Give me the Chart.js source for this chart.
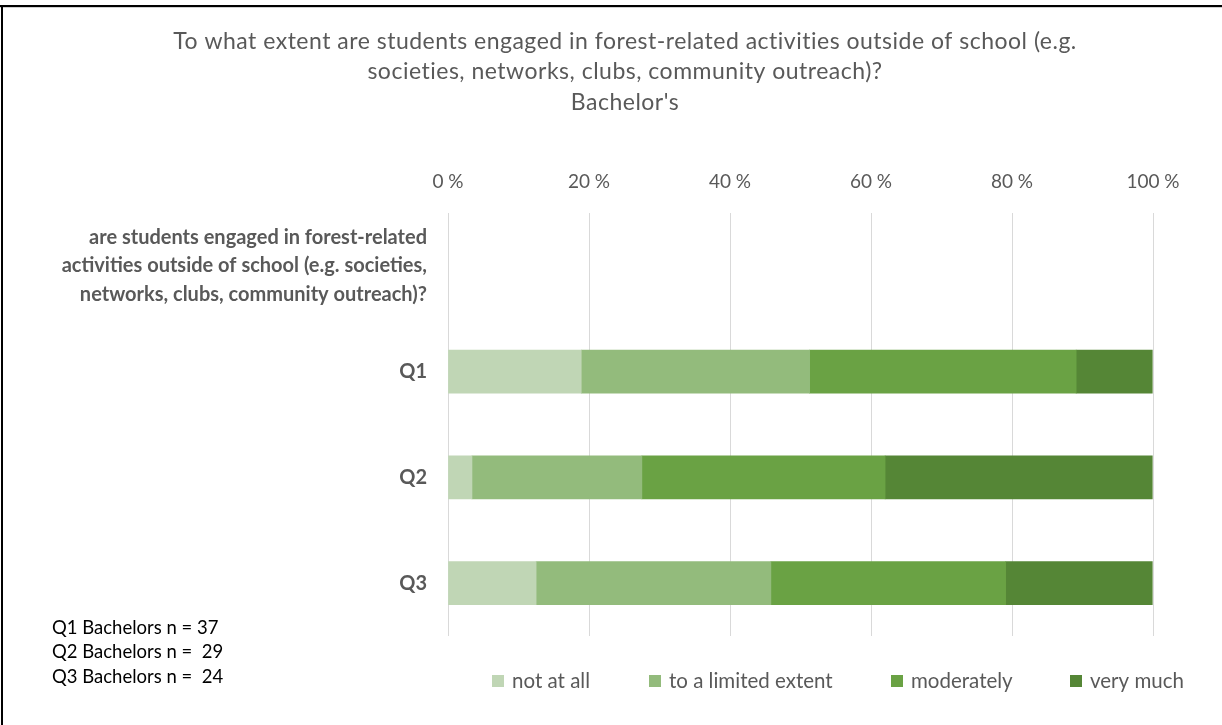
<!DOCTYPE html>
<html>
<head>
<meta charset="utf-8">
<script src="https://cdn.jsdelivr.net/npm/chart.js@4/dist/chart.umd.min.js"></script>
<style>
  html, body { margin: 0; padding: 0; background: #ffffff; }
  #wrap { position: relative; width: 1222px; height: 725px; }
  canvas { display: block; }
</style>
</head>
<body>
<div id="wrap"><canvas id="c" width="1222" height="725"></canvas></div>
<script>
// ---- data ----
const categories = [
  ['are students engaged in forest-related', 'activities outside of school (e.g. societies,', 'networks, clubs, community outreach)?'],
  'Q1', 'Q2', 'Q3'
];
const seriesNames = ['not at all', 'to a limited extent', 'moderately', 'very much'];
const notAtAll = [null, 18.9, 3.4, 12.5];
const limitedExtent = [null, 32.4, 24.1, 33.3];
const moderately = [null, 37.8, 34.5, 33.3];
const veryMuch = [null, 10.8, 37.9, 20.8];
const seriesColors = ['#C0D6B5', '#93BB7C', '#6AA244', '#558636'];
const xTicks = [0, 20, 40, 60, 80, 100];
const titleLines = [
  'To what extent are students engaged in forest-related activities outside of school (e.g.',
  'societies, networks, clubs, community outreach)?',
  "Bachelor's"
];
const noteLines = ['Q1 Bachelors n = 37', 'Q2 Bachelors n =  29', 'Q3 Bachelors n =  24'];

const FONT = "Lato, 'Open Sans', 'DejaVu Sans', sans-serif";
const GREY = '#595959';

const values = [notAtAll, limitedExtent, moderately, veryMuch];
const datasets = seriesNames.map((name, i) => ({
  label: name,
  data: values[i],
  backgroundColor: seriesColors[i],
  borderWidth: 0,
  barThickness: 43
}));

const decor = {
  id: 'decor',
  beforeDraw(chart) {
    const ctx = chart.ctx;
    ctx.save();
    ctx.fillStyle = '#000';
    ctx.fillRect(0, 5, 1222, 2);
    ctx.fillStyle = '#d0d0d0';
    ctx.fillRect(0, 7, 1222, 1);
    ctx.fillStyle = '#000';
    ctx.fillRect(1, 5, 2, 720);
    ctx.restore();
  },
  afterDraw(chart) {
    const ctx = chart.ctx;
    ctx.save();
    // title
    ctx.fillStyle = GREY;
    ctx.font = "23px " + FONT;
    ctx.letterSpacing = '0.5px';
    ctx.textAlign = 'center';
    ctx.textBaseline = 'middle';
    const ty = [42, 72, 103];
    titleLines.forEach((t, i) => ctx.fillText(t, 625, ty[i]));
    ctx.letterSpacing = '0px';
    // notes
    ctx.fillStyle = '#000';
    ctx.font = "18.5px " + FONT;
    ctx.textAlign = 'left';
    const ny = [628, 652, 677];
    noteLines.forEach((t, i) => ctx.fillText(t, 52, ny[i]));
    // legend
    ctx.font = "20.5px " + FONT;
    const lx = [492, 649, 891, 1070];
    seriesNames.forEach((name, i) => {
      ctx.fillStyle = seriesColors[i];
      ctx.fillRect(lx[i], 675, 12, 12);
      ctx.fillStyle = GREY;
      ctx.fillText(name, lx[i] + 20, 681);
    });
    ctx.restore();
  }
};

new Chart(document.getElementById('c'), {
  type: 'bar',
  data: { labels: categories, datasets: datasets },
  options: {
    indexAxis: 'y',
    responsive: false,
    animation: false,
    layout: { padding: { top: 160, right: 69, bottom: 89, left: 0 } },
    plugins: {
      legend: { display: false },
      title: { display: false },
      tooltip: { enabled: false }
    },
    scales: {
      x: {
        position: 'top',
        stacked: true,
        min: 0,
        max: 100,
        afterBuildTicks(axis) { axis.ticks = xTicks.map(v => ({ value: v })); },
        afterFit(axis) { axis.height = 53; },
        grid: { color: '#d9d9d9', lineWidth: 1, drawTicks: false },
        border: { display: false },
        ticks: {
          padding: 20,
          color: GREY,
          font: { family: FONT, size: 19 },
          callback: v => v + ' %'
        }
      },
      y: {
        stacked: true,
        afterFit(axis) { axis.width = 448; },
        grid: { display: false, drawTicks: false },
        border: { display: false },
        ticks: {
          padding: 21,
          color: GREY,
          font: { family: FONT, size: 20, weight: 'bold', lineHeight: 1.42 }
        }
      }
    }
  },
  plugins: [decor]
});
</script>
</body>
</html>
